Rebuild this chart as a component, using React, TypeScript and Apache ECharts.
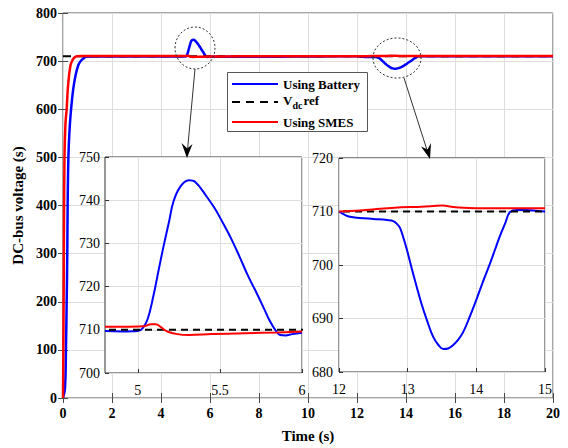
import React, { useEffect, useRef } from 'react';
import * as echarts from 'echarts';

// ---------- data ----------
const refLevel = 710;
const refLine: [number, number][] = [[0, refLevel], [20, refLevel]];

const batteryRise: [number, number][] = [
  [0, 0], [0.08, 20], [0.12, 100], [0.15, 200], [0.175, 300], [0.19, 400], [0.22, 500],
  [0.27, 560], [0.33, 600], [0.42, 643], [0.52, 672], [0.62, 691], [0.72, 700], [0.82, 705],
  [0.97, 709.3], [1.2, 709.7], [3, 709.7],
];
const batteryPeak: [number, number][] = [
  [4.8, 709.7], [4.9, 709.6], [5.0, 709.7], [5.03, 710.4], [5.06, 712.5], [5.094, 717.7],
  [5.125, 723.5], [5.156, 729.2], [5.19, 735], [5.217, 739.7], [5.258, 743.1], [5.31, 744.6],
  [5.35, 744.2], [5.42, 740.8], [5.47, 738], [5.52, 734.6], [5.57, 731], [5.62, 726.9],
  [5.67, 722.6], [5.725, 718.4], [5.77, 714.8], [5.806, 711.9], [5.84, 709.8], [5.867, 708.8],
  [5.9, 708.7], [5.94, 709], [6.0, 709.3],
];
const batteryMid: [number, number][] = [
  [6.3, 709.2], [7.5, 709.3], [8.5, 709.3], [9.3, 709.4], [10.5, 709.8], [11.8, 710],
];
const batteryDip: [number, number][] = [
  [12, 710], [12.08, 709.4], [12.16, 709], [12.3, 708.8], [12.5, 708.6], [12.7, 708.4],
  [12.79, 708.2], [12.85, 707.6], [12.89, 706.9], [12.94, 705], [12.99, 702.8], [13.06, 699.3],
  [13.13, 696], [13.2, 692.8], [13.28, 689.7], [13.37, 686.6], [13.45, 685], [13.52, 684.3],
  [13.59, 684.4], [13.66, 685], [13.74, 686.1], [13.81, 687.5], [13.9, 690.2], [14.0, 693.5],
  [14.1, 697], [14.2, 700.3], [14.27, 702.8], [14.34, 705.3], [14.42, 707.8], [14.49, 709.9],
  [14.6, 710.3], [14.73, 710.3], [14.9, 710.1], [15, 710],
];
const batteryEnd: [number, number][] = [[15.5, 710], [20, 710]];

const smesRise: [number, number][] = [
  [0, 0], [0.02, 150], [0.04, 350], [0.06, 500], [0.1, 570], [0.15, 600], [0.2, 645],
  [0.3, 690], [0.4, 703], [0.48, 708], [0.56, 710], [0.8, 710.6], [3, 710.7],
];
const smesPeak: [number, number][] = [
  [4.8, 710.7], [4.95, 710.7], [5.04, 710.8], [5.08, 711.3], [5.11, 711.3], [5.14, 710.6],
  [5.18, 709.6], [5.24, 709.0], [5.31, 708.8], [5.45, 709.0], [5.65, 709.2], [5.85, 709.4],
  [6.0, 709.6],
];
const smesMid: [number, number][] = [[6.5, 709.8], [8, 710], [10, 710.2], [11.8, 710]];
const smesDip: [number, number][] = [
  [12, 710], [12.3, 710.2], [12.6, 710.5], [12.9, 710.8], [13.2, 710.9], [13.5, 711.1],
  [13.7, 710.8], [14.0, 710.6], [14.5, 710.6], [15, 710.6],
];
const smesEnd: [number, number][] = [[15.5, 710.5], [20, 710.5]];

const batteryAll = [...batteryRise, ...batteryPeak, ...batteryMid, ...batteryDip, ...batteryEnd];
const smesAll = [...smesRise, ...smesPeak, ...smesMid, ...smesDip, ...smesEnd];

const inset1XLabels = [5, 5.5, 6];

const legendNames = ['Using Battery', 'ref', 'Using SMES'];

const FONT = '"Liberation Serif", "Times New Roman", serif';
const BLUE = '#0000ff';
const RED = '#ff0000';
const BLACK = '#000000';
const AXIS = '#4a4a4a';
const GRIDLINE = '#dedede';

export default function App() {
  const ref = useRef<HTMLDivElement>(null);
  useEffect(() => {
    document.body.style.margin = '0';
    if (!ref.current) return;
    const chart = echarts.init(ref.current, undefined, { renderer: 'svg' });

    const mainLabel = { fontFamily: FONT, fontWeight: 'bold' as const, fontSize: 14, color: '#000' };
    const insetLabel = { fontFamily: FONT, fontSize: 14, color: '#000' };
    const lineCommon = { type: 'line', showSymbol: false, symbol: 'none', smooth: 0.4 };

    const option: any = {
      animation: false,
      backgroundColor: '#fff',
      grid: [
        { left: 63, top: 13, width: 490, height: 388, show: true, borderColor: AXIS, borderWidth: 1, backgroundColor: '#fff', z: 0 },
        { left: 105, top: 157, width: 197, height: 216, show: true, borderColor: '#333', borderWidth: 1, backgroundColor: '#fff', z: 4 },
        { left: 339, top: 158, width: 206, height: 214, show: true, borderColor: '#333', borderWidth: 1, backgroundColor: '#fff', z: 4 },
      ],
      xAxis: [
        {
          gridIndex: 0, type: 'value', min: 0, max: 20, interval: 2, position: 'bottom',
          name: 'Time (s)', nameLocation: 'middle', nameGap: 30,
          nameTextStyle: { fontFamily: FONT, fontWeight: 'bold', fontSize: 15, color: '#000' },
          axisLine: { show: false },
          axisTick: { show: true, inside: true, length: 5, lineStyle: { color: AXIS } },
          axisLabel: { ...mainLabel, margin: 8 },
          splitLine: { show: true, lineStyle: { color: GRIDLINE, width: 1 } },
          z: 1,
        },
        {
          gridIndex: 0, type: 'value', min: 0, max: 20, interval: 2, position: 'top',
          axisLine: { show: false },
          axisTick: { show: true, inside: true, length: 5, lineStyle: { color: AXIS } },
          axisLabel: { show: false }, splitLine: { show: false }, z: 1,
        },
        {
          gridIndex: 1, type: 'value', min: 4.8, max: 6,
          axisLine: { show: false },
          axisTick: { show: true, inside: true, length: 4, customValues: inset1XLabels, lineStyle: { color: '#333' } },
          axisLabel: { ...insetLabel, margin: 10, customValues: inset1XLabels, showMinLabel: true, showMaxLabel: true },
          splitLine: { show: true, lineStyle: { color: GRIDLINE } },
          z: 5,
        },
        {
          gridIndex: 2, type: 'value', min: 12, max: 15, interval: 1,
          axisLine: { show: false },
          axisTick: { show: true, inside: true, length: 4, lineStyle: { color: '#333' } },
          axisLabel: { ...insetLabel, margin: 10 },
          splitLine: { show: true, lineStyle: { color: GRIDLINE } },
          z: 5,
        },
      ],
      yAxis: [
        {
          gridIndex: 0, type: 'value', min: 0, max: 800, interval: 100, position: 'left',
          name: 'DC-bus voltage (s)', nameLocation: 'middle', nameGap: 34,
          nameTextStyle: { fontFamily: FONT, fontWeight: 'bold', fontSize: 15, color: '#000' },
          axisLine: { show: false },
          axisTick: { show: true, inside: true, length: 5, lineStyle: { color: AXIS } },
          axisLabel: { ...mainLabel, margin: 6 },
          splitLine: { show: true, lineStyle: { color: GRIDLINE, width: 1 } },
          z: 1,
        },
        {
          gridIndex: 0, type: 'value', min: 0, max: 800, interval: 100, position: 'right',
          axisLine: { show: false },
          axisTick: { show: true, inside: true, length: 5, lineStyle: { color: AXIS } },
          axisLabel: { show: false }, splitLine: { show: false }, z: 1,
        },
        {
          gridIndex: 1, type: 'value', min: 700, max: 750, interval: 10,
          axisLine: { show: false },
          axisTick: { show: true, inside: true, length: 4, lineStyle: { color: '#333' } },
          axisLabel: { ...insetLabel, margin: 5 },
          splitLine: { show: true, lineStyle: { color: GRIDLINE } },
          z: 5,
        },
        {
          gridIndex: 2, type: 'value', min: 680, max: 720, interval: 10,
          axisLine: { show: false },
          axisTick: { show: true, inside: true, length: 4, lineStyle: { color: '#333' } },
          axisLabel: { ...insetLabel, margin: 6 },
          splitLine: { show: true, lineStyle: { color: GRIDLINE } },
          z: 5,
        },
      ],
      series: [
        // main plot
        { ...lineCommon, name: legendNames[0], xAxisIndex: 0, yAxisIndex: 0, data: batteryAll, lineStyle: { color: BLUE, width: 2.5 }, z: 2 },
        { ...lineCommon, smooth: false, name: legendNames[1], xAxisIndex: 0, yAxisIndex: 0, data: refLine, lineStyle: { color: BLACK, width: 2, type: [8, 6] }, z: 2 },
        { ...lineCommon, name: legendNames[2], xAxisIndex: 0, yAxisIndex: 0, data: smesAll, lineStyle: { color: RED, width: 2.5 }, z: 2 },
        // inset 1
        { ...lineCommon, xAxisIndex: 2, yAxisIndex: 2, data: batteryPeak, lineStyle: { color: BLUE, width: 2 }, z: 6 },
        { ...lineCommon, smooth: false, xAxisIndex: 2, yAxisIndex: 2, data: refLine, lineStyle: { color: BLACK, width: 2, type: [7, 5] }, z: 6 },
        { ...lineCommon, xAxisIndex: 2, yAxisIndex: 2, data: smesPeak, lineStyle: { color: RED, width: 2 }, z: 6 },
        // inset 2
        { ...lineCommon, xAxisIndex: 3, yAxisIndex: 3, data: batteryDip, lineStyle: { color: BLUE, width: 2 }, z: 6 },
        { ...lineCommon, smooth: false, xAxisIndex: 3, yAxisIndex: 3, data: refLine, lineStyle: { color: BLACK, width: 2, type: [7, 5] }, z: 6 },
        { ...lineCommon, xAxisIndex: 3, yAxisIndex: 3, data: smesDip, lineStyle: { color: RED, width: 2 }, z: 6 },
      ],
      graphic: [
        // dotted circles
        { type: 'ellipse', shape: { cx: 195, cy: 48, rx: 20, ry: 21 }, style: { fill: 'none', stroke: '#333', lineWidth: 1, lineDash: [2, 2] }, z: 10 },
        { type: 'ellipse', shape: { cx: 397, cy: 58, rx: 24, ry: 20 }, style: { fill: 'none', stroke: '#333', lineWidth: 1, lineDash: [2, 2] }, z: 10 },
        // arrows
        { type: 'line', shape: { x1: 195, y1: 69, x2: 187.5, y2: 150 }, style: { stroke: '#333', lineWidth: 1 }, z: 10 },
        { type: 'polygon', shape: { points: [[187, 158], [181.5, 143], [187.3, 148.5], [192.5, 144]] }, style: { fill: '#000' }, z: 10 },
        { type: 'line', shape: { x1: 404, y1: 78, x2: 427, y2: 150 }, style: { stroke: '#333', lineWidth: 1 }, z: 10 },
        { type: 'polygon', shape: { points: [[430, 159], [421, 146.5], [427.5, 149.5], [431, 143]] }, style: { fill: '#000' }, z: 10 },
        // legend
        { type: 'rect', shape: { x: 227.5, y: 72.5, width: 140, height: 59 }, style: { fill: '#fff', stroke: '#555', lineWidth: 1 }, z: 10 },
        { type: 'line', shape: { x1: 232, y1: 84, x2: 278, y2: 84 }, style: { stroke: BLUE, lineWidth: 2 }, z: 11 },
        { type: 'line', shape: { x1: 232, y1: 102, x2: 278, y2: 102 }, style: { stroke: BLACK, lineWidth: 2, lineDash: [8, 6] }, z: 11 },
        { type: 'line', shape: { x1: 232, y1: 122, x2: 278, y2: 122 }, style: { stroke: RED, lineWidth: 2 }, z: 11 },
        { type: 'text', x: 283, y: 84, style: { text: legendNames[0], fontFamily: FONT, fontWeight: 'bold', fontSize: 13, fill: '#000', verticalAlign: 'middle' }, z: 11 },
        {
          type: 'text', x: 283, y: 102,
          style: {
            text: '{v|V}{s|dc}{v|' + legendNames[1] + '}',
            verticalAlign: 'middle',
            rich: {
              v: { fontFamily: FONT, fontWeight: 'bold', fontSize: 13, fill: '#000', verticalAlign: 'bottom', padding: [0, 0, 4, 0] },
              s: { fontFamily: FONT, fontWeight: 'bold', fontSize: 10, fill: '#000', verticalAlign: 'bottom', padding: [0, 1, 0, 0] },
            },
          },
          z: 11,
        },
        { type: 'text', x: 283, y: 122, style: { text: legendNames[2], fontFamily: FONT, fontWeight: 'bold', fontSize: 13, fill: '#000', verticalAlign: 'middle' }, z: 11 },
      ],
    };
    chart.setOption(option);
    return () => chart.dispose();
  }, []);
  return <div ref={ref} style={{ width: 568, height: 448 }} />;
}
